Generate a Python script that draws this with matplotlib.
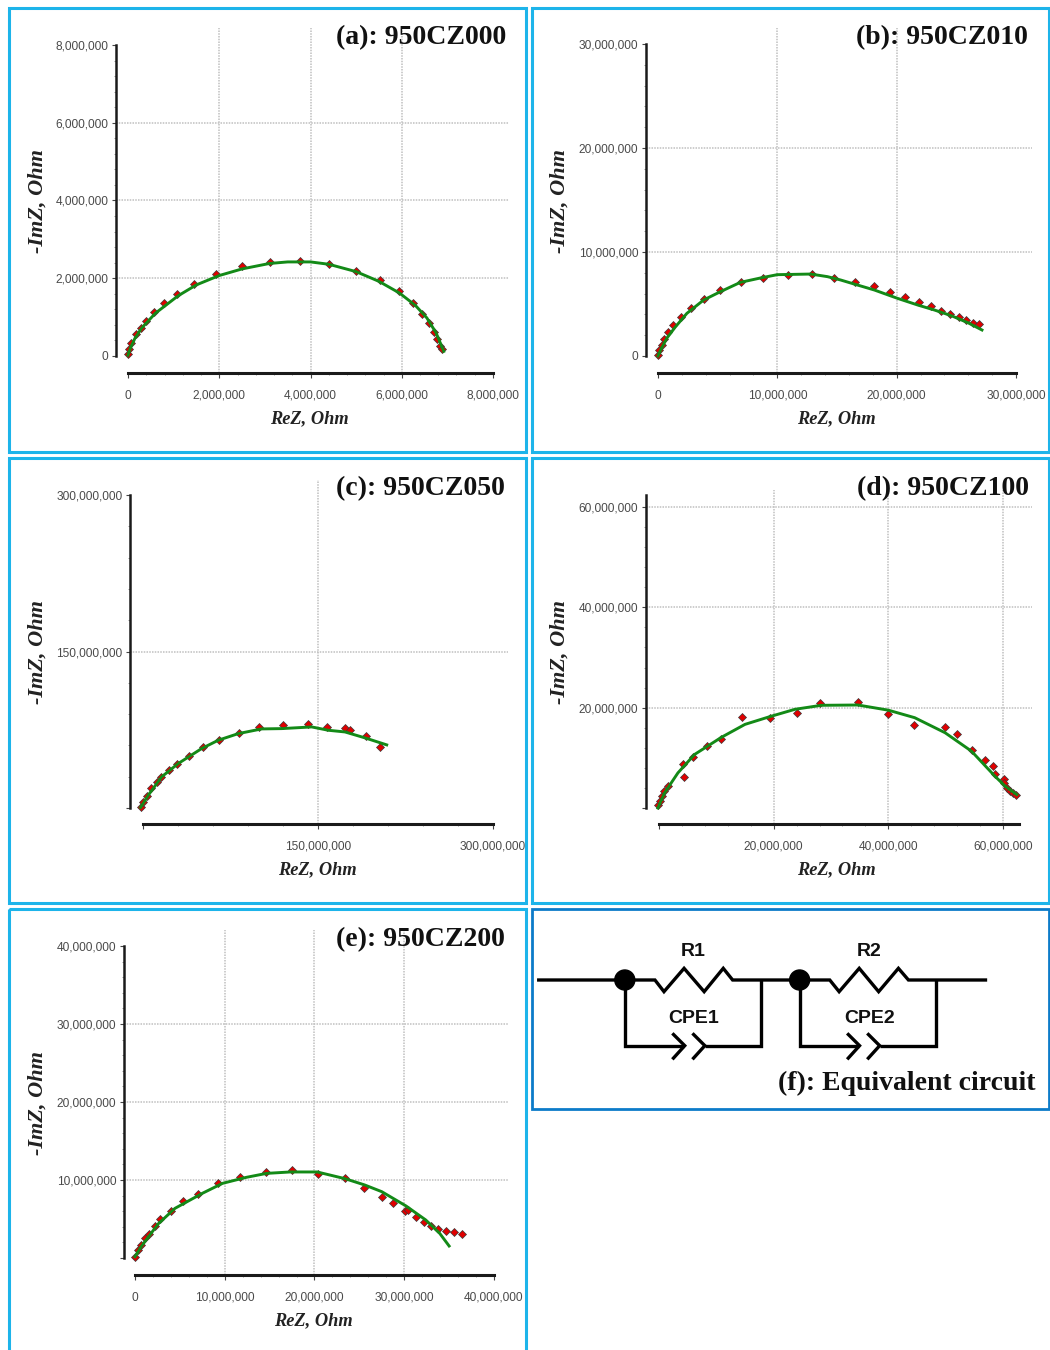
import matplotlib
matplotlib.use("Agg")
import matplotlib.pyplot as plt
from matplotlib.patches import Rectangle, Circle
from matplotlib.ticker import FixedLocator
from matplotlib.transforms import Bbox

M = 1e6
W, H = 1050, 1350

# ---- data (millions of ohm) ----
a_re = [0, .02, .07, .17, .28, .385, .57, .785, 1.08, 1.45, 1.93, 2.49, 3.11, 3.76, 4.4, 4.99, 5.52, 5.93, 6.24, 6.44, 6.59, 6.71, 6.77, 6.83, 6.88]
a_im = [.04, .17, .34, .57, .73, .89, 1.13, 1.36, 1.59, 1.86, 2.11, 2.31, 2.42, 2.45, 2.37, 2.18, 1.95, 1.66, 1.36, 1.07, .85, .62, .43, .27, .17]
a_fit_re = [0, .05, .15, .3, .6, 1.1, 1.5, 2, 2.5, 3.1, 3.5, 4, 4.4, 5, 5.5, 5.95, 6.3, 6.55, 6.75, 6.85, 6.92]
a_fit_im = [.02, .2, .45, .72, 1.1, 1.55, 1.83, 2.07, 2.24, 2.38, 2.42, 2.42, 2.36, 2.17, 1.92, 1.62, 1.3, .98, .6, .32, .12]

b_re = [0, .11, .31, .51, .87, 1.29, 1.91, 2.75, 3.84, 5.22, 6.93, 8.84, 10.91, 12.87, 14.73, 16.52, 18.12, 19.47, 20.67, 21.85, 22.9, 23.68, 24.46, 25.24, 25.84, 26.42, 26.93]
b_im = [.1, .58, 1.06, 1.6, 2.34, 2.98, 3.72, 4.65, 5.45, 6.35, 7.08, 7.5, 7.79, 7.85, 7.53, 7.08, 6.73, 6.19, 5.67, 5.19, 4.81, 4.33, 4.01, 3.72, 3.46, 3.14, 3.04]
b_fit_re = [0, .22, .73, 1.43, 2.42, 3.82, 5.22, 6.9, 8.58, 9.99, 12.8, 14.2, 15.3, 16.7, 18.12, 20.08, 21.77, 23.17, 24.57, 25.97, 27.15]
b_fit_im = [0, .58, 1.7, 2.76, 4.1, 5.38, 6.18, 7.08, 7.5, 7.82, 7.88, 7.63, 7.31, 6.83, 6.35, 5.54, 4.9, 4.42, 3.88, 3.2, 2.5]

c_re = [-2, .3, 3.1, 6.9, 11.7, 15.4, 22, 29, 39, 51, 65, 82, 99, 120, 141, 158, 173, 177, 191, 203]
c_im = [1.3, 6, 11.5, 18.8, 25.2, 29.3, 36.6, 42.4, 49.7, 58, 65.6, 71.7, 77.7, 79.3, 80.9, 77.7, 76.4, 74.5, 68.8, 58.6]
c_fit_re = [-2, 4.6, 16, 30.3, 50.3, 64.6, 81.7, 101.7, 118.9, 144.6, 158.9, 173.1, 190.3, 208.9]
c_fit_im = [.6, 12.4, 29.9, 42.7, 57, 65, 71.3, 75.8, 76.1, 77.7, 74.5, 72.9, 67.2, 60.5]

d_re = [-.2, .09, .5, .95, 1.5, 4.1, 4.3, 5.9, 8.4, 10.9, 14.4, 19.3, 24, 28.1, 34.7, 40, 44.5, 49.8, 51.9, 54.6, 56.9, 58.2, 58.6, 60.1, 60.1, 60.7, 61.2, 61.8, 62.3]
d_im = [.53, 1.33, 2.33, 3.47, 4.33, 8.87, 6.2, 10.1, 12.3, 13.73, 18.07, 18, 18.93, 20.87, 21.2, 18.8, 16.5, 16.2, 14.67, 11.6, 9.53, 8.33, 6.8, 5.87, 4.93, 4, 3.33, 3, 2.67]
d_fit_re = [-.2, .96, 3.3, 6.2, 10.9, 15, 19.3, 23.7, 28.3, 34.7, 40, 44.6, 49.9, 54.5, 58.6, 60.4, 62.4]
d_fit_im = [0, 3, 7, 10.67, 14.1, 16.67, 18.2, 19.67, 20.47, 20.53, 19.5, 18, 15, 11.33, 6.33, 4.33, 2.67]

e_re = [0, .3, .68, 1.13, 1.51, 2.27, 2.8, 4, 5.33, 7.03, 9.26, 11.72, 14.63, 17.5, 20.4, 23.4, 25.5, 27.5, 28.8, 30.1, 30.4, 31.3, 32.25, 33, 33.8, 34.6, 35.5, 36.45]
e_im = [.17, 1.03, 1.67, 2.52, 3.08, 4.1, 4.96, 6.07, 7.26, 8.25, 9.66, 10.4, 11, 11.25, 10.8, 10.2, 8.97, 7.82, 7, 6.07, 6.1, 5.26, 4.6, 4.1, 3.76, 3.5, 3.33, 3.12]
e_fit_re = [0, .68, 2.57, 4.46, 7.5, 9.75, 12.4, 14.67, 17.3, 20.3, 23.4, 25.6, 27.5, 30.2, 32.4, 33.95, 35]
e_fit_im = [.17, 1.45, 4.36, 6.37, 8.29, 9.57, 10.34, 10.85, 11.03, 11.03, 10.17, 9.36, 8.5, 6.67, 4.87, 3.16, 1.54]

a_ticks = [0, 2, 4, 6, 8]
b_ticks = [0, 10, 20, 30]
c_ticks = [0, 150, 300]
d_ticks = [0, 20, 40, 60]
e_ticks = [0, 10, 20, 30, 40]

TICK = "#4a4a4a"
BLUE = "#1db4ea"
GREEN = "#138a17"
GRID = "#c0c0c0"
SERIF = "Liberation Serif"
SANS = "Liberation Sans"

fig = plt.figure(figsize=(W / 100, H / 100), dpi=100, facecolor="white")


def fmt(v):
    return f"{int(v * M):,}"


def panel(re, im, fre, fim, ticks, title, box, zero, top_px, right_px,
          spine_x, spine_y, grid_top, grid_right, x_end, y_end,
          title_xy, xl_xy, yl_xy, zero_label_x=True, zero_label_y=True, grid_max=False):
    """box: frame of panel in pixels. zero=(x px, y px) of origin,
    top_px=(y px at max tick), right_px=(x px at max tick)."""
    x0, y0 = zero
    tmax = ticks[-1]
    sx = (right_px - x0) / tmax
    sy = (y0 - top_px) / tmax
    ax = fig.add_axes([spine_x / W, 1 - spine_y / H,
                       (grid_right - spine_x) / W, (spine_y - grid_top) / H])
    ax.patch.set_alpha(0)
    ax.set_xlim((spine_x - x0) / sx, (grid_right - x0) / sx)
    ax.set_ylim((y0 - spine_y) / sy, (y0 - grid_top) / sy)

    for v in ticks:
        if 0 < v < tmax or (grid_max and v == tmax):
            ax.axvline(v, color=GRID, lw=1.1, ls=(0, (1, 0.8)), zorder=1)
            ax.axhline(v, color=GRID, lw=1.1, ls=(0, (1, 0.8)), zorder=1)

    ax.plot(re, im, ls="none", marker="D", ms=4.3, mfc="#e00000", mec="#3a3a3a",
            mew=0.5, zorder=3, clip_on=False)
    ax.plot(fre, fim, color=GREEN, lw=2.1, zorder=4, clip_on=False)

    for s in ("top", "right"):
        ax.spines[s].set_visible(False)
    ax.spines["left"].set_bounds(0, y_end)
    ax.spines["bottom"].set_bounds(0, x_end)
    ax.spines["left"].set_linewidth(1.8)
    ax.spines["bottom"].set_linewidth(2.2)
    ax.spines["left"].set_color("#1a1a1a")
    ax.spines["bottom"].set_color("#1a1a1a")

    step = (ticks[1] - ticks[0]) / 5
    n = int(round(max(x_end, y_end) / step))
    minor = [i * step for i in range(n + 1)]
    ax.xaxis.set_minor_locator(FixedLocator([m for m in minor if m <= x_end]))
    ax.yaxis.set_minor_locator(FixedLocator([m for m in minor if m <= y_end]))
    ax.set_xticks(ticks)
    ax.set_yticks(ticks)
    ax.set_xticklabels([fmt(v) if (v or zero_label_x) else "" for v in ticks])
    ax.set_yticklabels([fmt(v) if (v or zero_label_y) else "" for v in ticks])
    ax.tick_params(axis="x", which="major", length=3.5, width=0.8, color="#444444",
                   pad=8.5, labelsize=8.6, labelcolor=TICK)
    ax.tick_params(axis="y", which="major", length=3, width=0.8, color="#444444",
                   pad=2.5, labelsize=8.6, labelcolor=TICK)
    ax.tick_params(axis="both", which="minor", length=1.6, width=0.6, color="#888888")
    clip = Bbox([[box[0], H - box[3]], [box[2], H - box[1]]])
    for lab in ax.get_xticklabels() + ax.get_yticklabels():
        lab.set_fontfamily(SANS)
        lab.set_clip_on(True)
        lab.set_clip_box(clip)

    ax.set_xlabel("ReZ, Ohm", family=SERIF, style="italic", weight="bold",
                  size=13.2, color="#222222")
    ax.set_ylabel("-ImZ, Ohm", family=SERIF, style="italic", weight="bold",
                  size=16, color="#222222")
    afx = lambda p: (p - spine_x) / (grid_right - spine_x)
    afy = lambda p: (spine_y - p) / (spine_y - grid_top)
    ax.xaxis.set_label_coords(afx(xl_xy[0]), afy(xl_xy[1]))
    ax.xaxis.label.set_va("center")
    ax.yaxis.set_label_coords(afx(yl_xy[0]), afy(yl_xy[1]))
    ax.yaxis.label.set_va("center")
    over.text(title_xy[0], title_xy[1], title, family=SERIF, weight="bold",
              size=20, ha="right", va="center", color="#111111", zorder=10)
    return ax


# overlay in pixel coordinates: frames, panel titles and the circuit sketch
over = fig.add_axes([0, 0, 1, 1], zorder=5)
over.set_xlim(0, W)
over.set_ylim(H, 0)
over.axis("off")
over.patch.set_alpha(0)

boxes = [(9, 8, 526, 452), (532, 8, 1049, 452), (9, 458, 526, 903),
         (532, 458, 1049, 903), (9, 909, 526, 1380)]
for b in boxes:
    over.add_patch(Rectangle((b[0], b[1]), b[2] - b[0], b[3] - b[1], fill=False,
                             ec=BLUE, lw=2.2, clip_on=True))
over.add_patch(Rectangle((532, 909), 517, 200, fill=False, ec="#0c7bc9", lw=2.0))

panel(a_re, a_im, a_fit_re, a_fit_im, a_ticks, "(a): 950CZ000", boxes[0],
      (128, 356), 45, 493, 116, 373, 28, 509, 8, 8,
      (506, 38), (309, 419), (38, 201))
panel(b_re, b_im, b_fit_re, b_fit_im, b_ticks, "(b): 950CZ010", boxes[1],
      (658, 356), 44, 1016, 646, 373, 28, 1032, 30, 30,
      (1028, 38), (836, 419), (560, 201))
panel(c_re, c_im, c_fit_re, c_fit_im, c_ticks, "(c): 950CZ050", boxes[2],
      (143, 808), 495, 493, 130, 824, 480, 508, 300, 300,
      (505, 489), (317, 870), (38, 652), False, False)
panel(d_re, d_im, d_fit_re, d_fit_im, d_ticks, "(d): 950CZ100", boxes[3],
      (659, 808), 507, 1003, 646, 824, 490, 1032, 62.8, 62.4,
      (1029, 489), (836, 870), (560, 652), False, False, True)
panel(e_re, e_im, e_fit_re, e_fit_im, e_ticks, "(e): 950CZ200", boxes[4],
      (135, 1258), 946, 494, 124, 1275, 930, 509, 40, 40,
      (505, 940), (313, 1321), (38, 1103), True, False)

# ---- (f) equivalent circuit schematic ----
cpx = lambda z: 525 + z / 2.986
cpy = lambda z: 900 + z / 3


def wire(pts):
    over.plot([cpx(p[0]) for p in pts], [cpy(p[1]) for p in pts], color="black",
              lw=2.4, solid_joinstyle="miter", solid_capstyle="butt", zorder=6)


wire([(36, 240), (388, 240), (415, 275), (475, 205), (535, 275), (592, 205), (620, 240),
      (910, 240), (938, 275), (998, 205), (1056, 275), (1115, 205), (1145, 240), (1380, 240)])
for dx in (0, 522):
    wire([(298 + dx, 240), (298 + dx, 437), (475 + dx, 437)])
    wire([(440 + dx, 400), (477 + dx, 437), (440 + dx, 478)])
    wire([(500 + dx, 400), (537 + dx, 437), (500 + dx, 478)])
    wire([(537 + dx, 437), (705 + dx, 437), (705 + dx, 240)])
    over.add_patch(Circle((cpx(298 + dx), cpy(240)), 10, color="black", zorder=7))

for lab, zx, zy in (("R1", 503, 155), ("R2", 1028, 155), ("CPE1", 503, 355), ("CPE2", 1030, 355)):
    over.text(cpx(zx), cpy(zy), lab, family=SANS, size=14, ha="center", va="center",
              color="#111111", weight="bold")
over.text(1035, 1083, "(f): Equivalent circuit", family=SERIF, weight="bold", size=20,
          ha="right", va="center", color="#111111")

fig.savefig("out.png", dpi=100, facecolor="white")
